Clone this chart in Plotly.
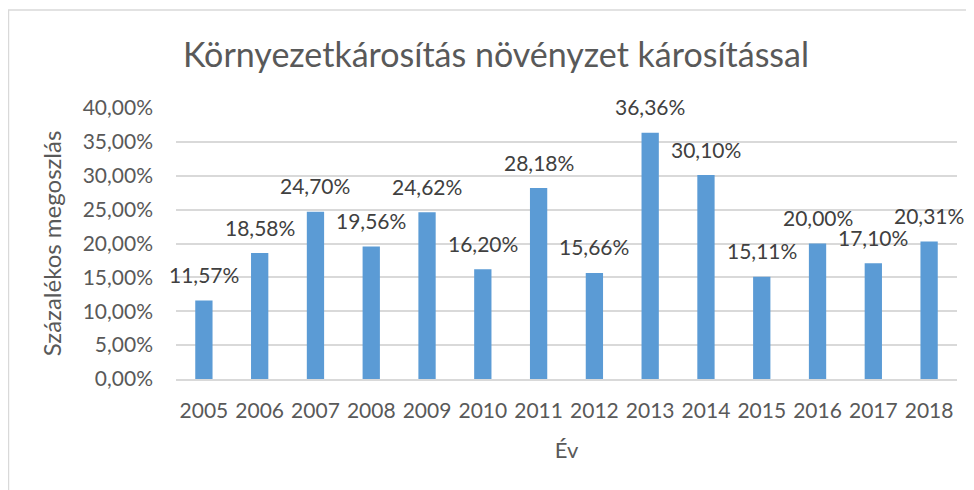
import plotly.graph_objects as go

# Data
years = ["2005", "2006", "2007", "2008", "2009", "2010", "2011",
         "2012", "2013", "2014", "2015", "2016", "2017", "2018"]
share_pct = [11.57, 18.58, 24.70, 19.56, 24.62, 16.20, 28.18,
             15.66, 36.36, 30.10, 15.11, 20.00, 17.10, 20.31]

title_text = "Környezetkárosítás növényzet károsítással"
x_title = "Év"
y_title = "Százalékos megoszlás"

FONT = "Lato"
GREY = "#595959"


def fmt(v):
    return f"{v:.2f}".replace(".", ",") + "%"


fig = go.Figure(
    go.Bar(
        x=years,
        y=share_pct,
        marker_color="#5B9BD5",
        marker_line_width=0,
        hoverinfo="skip",
    )
)

# data labels, lifted above the bar tops like in the original
# (numeric-looking category names would be read as indices, so use the index)
for i, v in enumerate(share_pct):
    fig.add_annotation(
        x=i, y=v, text=fmt(v), showarrow=False,
        yshift=26, yanchor="middle",
        font=dict(family=FONT, size=21, color="#404040"),
    )

# outer chart frame
fig.add_shape(
    type="rect", xref="paper", yref="paper",
    x0=-0.2145, x1=1.04, y0=-0.5, y1=1.3616,
    line=dict(color="#D9D9D9", width=1.5), layer="below",
)

# page body has an 8px margin, so the margins are shifted to compensate
fig.update_layout(
    width=974,
    height=490,
    margin=dict(l=168, r=25, t=100, b=119),
    paper_bgcolor="white",
    plot_bgcolor="white",
    bargap=0.69,
    showlegend=False,
    separators=",.",
    font=dict(family=FONT, color=GREY),
    title=dict(
        text=title_text,
        x=0.501, xanchor="center",
        y=0.904, yanchor="middle",
        font=dict(family=FONT, size=34, color=GREY),
    ),
    xaxis=dict(
        type="category",
        range=[-0.5, len(years) - 0.5],
        title=dict(text=x_title, font=dict(size=22, color=GREY), standoff=22),
        tickfont=dict(size=21, color=GREY),
        showgrid=False,
        showline=True,
        linecolor="#D9D9D9",
        linewidth=1.5,
        ticks="",
        ticklabelstandoff=12,
    ),
    yaxis=dict(
        title=dict(text=y_title, font=dict(size=24, color=GREY), standoff=14),
        range=[0, 40],
        dtick=5,
        tickformat=".2f",
        ticksuffix="%",
        tickfont=dict(size=21, color=GREY),
        showgrid=True,
        gridcolor="#D9D9D9",
        gridwidth=1.5,
        zeroline=False,
        showline=False,
        ticks="",
        ticklabelstandoff=22,
    ),
)

fig.write_html("out.html")
